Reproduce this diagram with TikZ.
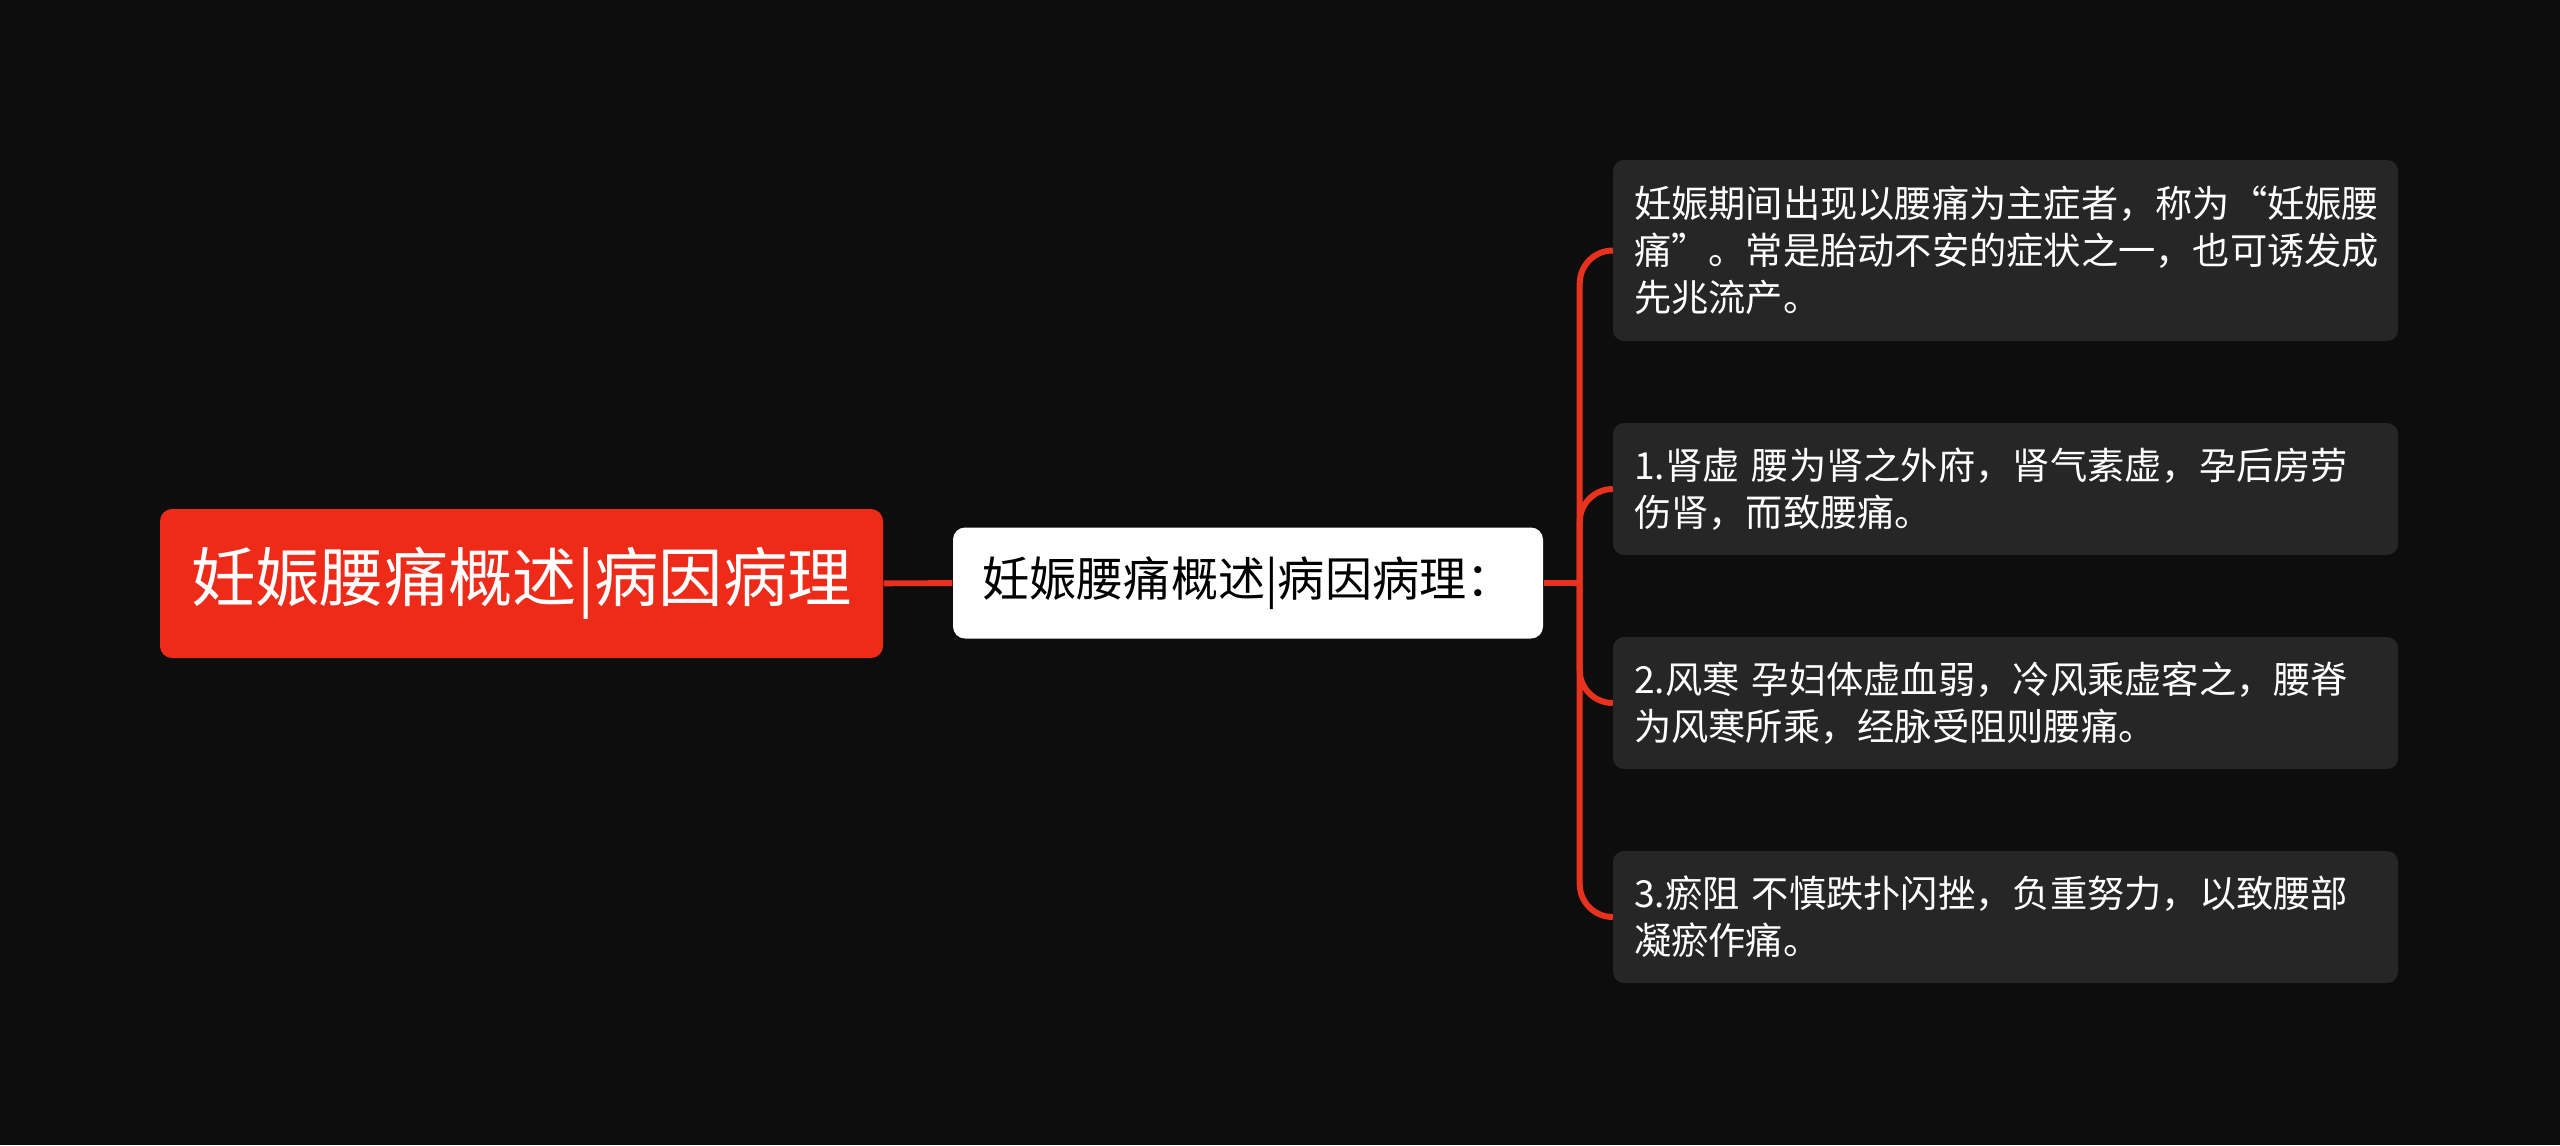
\documentclass[tikz,border=0pt]{standalone}
\usepackage{fontspec}
\setmainfont{Noto Sans CJK SC}
\usetikzlibrary{positioning,calc}

\definecolor{bgdark}{HTML}{0D0D0D}
\definecolor{rootred}{HTML}{EE2A19}
\definecolor{linkred}{HTML}{E8321E}
\definecolor{leafgrey}{HTML}{262626}

\begin{document}
\begin{tikzpicture}
    [
      rootnode/.style={rounded corners=0.12cm,fill=rootred,text=white,minimum width=7.23cm,minimum height=1.49cm,font=\fontsize{18.3pt}{22pt}\selectfont},
      subnode/.style={rounded corners=0.12cm,fill=white,text=black,minimum width=5.90cm,minimum height=1.11cm,font=\fontsize{13.4pt}{16pt}\selectfont},
      leafnode/.style={rounded corners=0.11cm,fill=leafgrey,text=white,text width=7.43cm,inner xsep=0.21cm,align=left,minimum height=1.32cm,font=\fontsize{10.6pt}{13.4pt}\selectfont},
      link/.style={draw=linkred,line width=1.7pt},
    ]

    \fill [bgdark] (0,0) rectangle (25.6,-11.45);

    \node (root) [rootnode] at (5.215,-5.835) {妊娠腰痛概述|病因病理};
    \node (sub-cause) [subnode] at (12.48,-5.83) {妊娠腰痛概述|病因病理：};

    \node (leaf-def) [leafnode,minimum height=1.81cm] at (20.055,-2.505)
      {妊娠期间出现以腰痛为主症者，称为“妊娠腰\\痛”。常是胎动不安的症状之一，也可诱发成\\先兆流产。};
    \node (leaf-kidney) [leafnode] at (20.055,-4.89)
      {1.肾虚 腰为肾之外府，肾气素虚，孕后房劳\\伤肾，而致腰痛。};
    \node (leaf-cold) [leafnode] at (20.055,-7.03)
      {2.风寒 孕妇体虚血弱，冷风乘虚客之，腰脊\\为风寒所乘，经脉受阻则腰痛。};
    \node (leaf-stasis) [leafnode] at (20.055,-9.17)
      {3.瘀阻 不慎跌扑闪挫，负重努力，以致腰部\\凝瘀作痛。};

    \coordinate (fork) at ($(sub-cause.east)+(0.36,0)$);

    \path
    (root) edge [link] (sub-cause)
    (sub-cause.east) edge [link] (fork)
    ;

    \draw [link,rounded corners=0.33cm] (fork) |- (leaf-def.west);
    \draw [link,rounded corners=0.33cm] (fork) |- (leaf-kidney.west);
    \draw [link,rounded corners=0.33cm] (fork) |- (leaf-cold.west);
    \draw [link,rounded corners=0.33cm] (fork) |- (leaf-stasis.west);

  \end{tikzpicture}
\end{document}
